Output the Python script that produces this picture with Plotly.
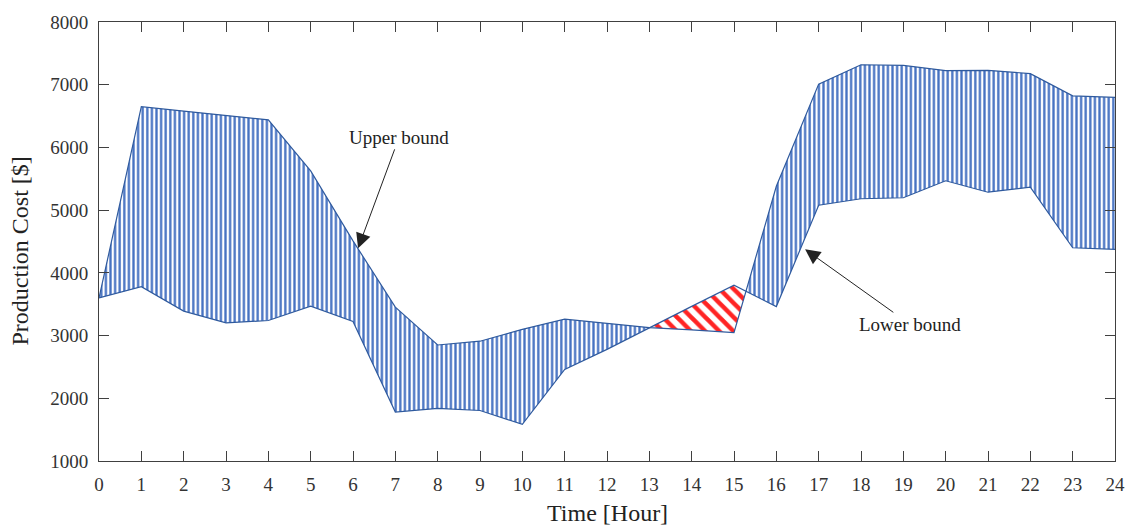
import numpy as np
import plotly.graph_objects as go

hours = list(range(25))
upper_bound = [3600, 6650, 6580, 6510, 6440, 5625, 4510, 3453, 2850, 2910,
               3100, 3262, 3195, 3128, 3090, 3048, 5380, 7010, 7318, 7307,
               7225, 7229, 7177, 6822, 6797]
lower_bound = [3600, 3780, 3390, 3203, 3240, 3470, 3225, 1781, 1839, 1805,
               1585, 2460, 2780, 3128, 3465, 3802, 3462, 5078, 5182, 5198,
               5468, 5286, 5365, 4400, 4375]
x_ticks = list(range(0, 25))
y_ticks = [1000, 2000, 3000, 4000, 5000, 6000, 7000, 8000]

BLUE = "#4672c2"
EDGE = "#2f5a9e"
RED = "#ff2424"
FONT = "Liberation Serif"

# split the band into regions where upper>=lower (blue) and upper<lower (red)
xs, us, ls = [], [], []
for i in range(len(hours)):
    if i > 0:
        d0 = upper_bound[i - 1] - lower_bound[i - 1]
        d1 = upper_bound[i] - lower_bound[i]
        if d0 * d1 < 0:
            t = d0 / (d0 - d1)
            xc = hours[i - 1] + t * (hours[i] - hours[i - 1])
            yc = upper_bound[i - 1] + t * (upper_bound[i] - upper_bound[i - 1])
            xs.append(xc); us.append(yc); ls.append(yc)
    xs.append(hours[i]); us.append(upper_bound[i]); ls.append(lower_bound[i])

regions = []
cur = [0]
cur_sign = None
for j in range(1, len(xs)):
    mid = (us[j] + us[j - 1]) / 2 - (ls[j] + ls[j - 1]) / 2
    s = 1 if mid >= 0 else -1
    if cur_sign is None:
        cur_sign = s
    if s != cur_sign:
        regions.append((cur_sign, cur))
        cur = [j - 1]
        cur_sign = s
    cur.append(j)
regions.append((cur_sign, cur))

fig = go.Figure()
for sign, idx in regions:
    px = [xs[k] for k in idx] + [xs[k] for k in reversed(idx)]
    py = [us[k] for k in idx] + [ls[k] for k in reversed(idx)]
    if sign > 0:
        pat = dict(shape="|", fgcolor=BLUE, bgcolor="white", size=4.6, solidity=0.5,
                   fgopacity=1, fillmode="replace")
    else:
        pat = dict(shape="\\", fgcolor=RED, bgcolor="white", size=10, solidity=0.45,
                   fgopacity=1, fillmode="replace")
    fig.add_trace(go.Scatter(x=px, y=py, fill="toself", fillcolor="white",
                             fillpattern=pat, mode="lines",
                             line=dict(width=0), hoverinfo="skip",
                             showlegend=False))

fig.add_trace(go.Scatter(x=hours, y=upper_bound, mode="lines",
                         line=dict(color=EDGE, width=1.2), showlegend=False))
fig.add_trace(go.Scatter(x=hours, y=lower_bound, mode="lines",
                         line=dict(color=EDGE, width=1.2), showlegend=False))

axis_common = dict(showline=True, linecolor="#404040", linewidth=1, mirror="ticks",
                   ticks="inside", ticklen=10, tickcolor="#404040", tickwidth=1,
                   showgrid=False, zeroline=False,
                   tickfont=dict(family=FONT, size=19, color="#333333"))

fig.update_xaxes(range=[0, 24], tickvals=x_ticks, ticktext=[str(v) for v in x_ticks],
                 ticklabelstandoff=6, **axis_common)
fig.update_yaxes(range=[1000, 8000], tickvals=y_ticks, ticktext=[str(v) for v in y_ticks],
                 ticklabelstandoff=6, **axis_common)

fig.add_annotation(x=6.12, y=4391, ax=41, ay=-111, text="Upper bound",
                   showarrow=True, arrowhead=2, arrowsize=3, arrowwidth=1,
                   arrowcolor="#222222", font=dict(family=FONT, size=19, color="#222222"))
fig.add_annotation(x=16.68, y=4375, ax=105, ay=75, text="Lower bound",
                   showarrow=True, arrowhead=2, arrowsize=3, arrowwidth=1,
                   arrowcolor="#222222", font=dict(family=FONT, size=19, color="#222222"))

fig.add_annotation(x=0.5, y=0, xref="paper", yref="paper", text="Time [Hour]",
                   showarrow=False, yanchor="middle", yshift=-52,
                   font=dict(family=FONT, size=24, color="#222222"))
fig.add_annotation(x=0, y=0.5, xref="paper", yref="paper", text="Production Cost [$]",
                   showarrow=False, xanchor="center", yanchor="middle",
                   xshift=-80, yshift=-10, textangle=-90,
                   font=dict(family=FONT, size=24, color="#222222"))

fig.update_layout(width=1137, height=530, margin=dict(l=99, r=18, t=13, b=69),
                  paper_bgcolor="white", plot_bgcolor="white")

fig.write_html("out.html")
